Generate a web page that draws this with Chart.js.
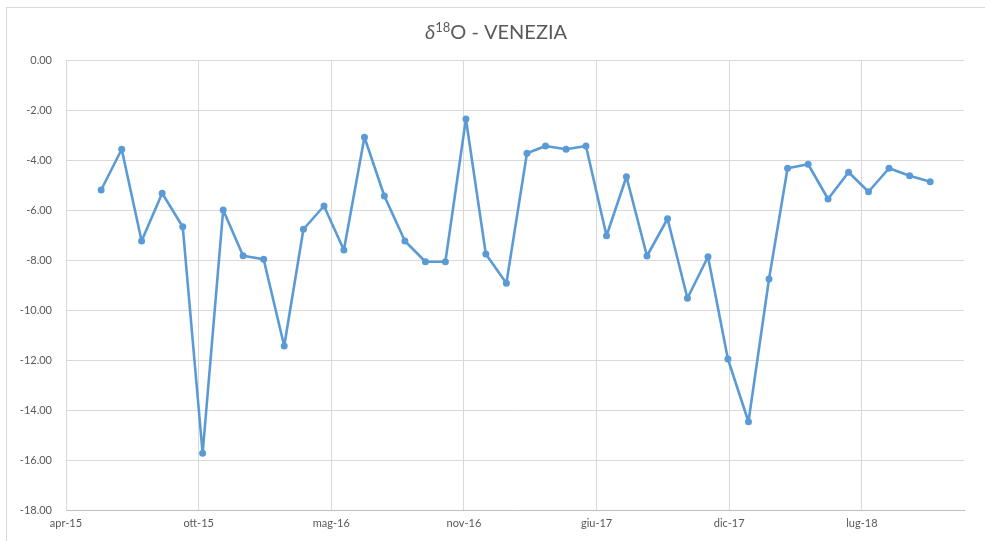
<!DOCTYPE html>
<html>
<head>
<meta charset="utf-8">
<script src="https://cdn.jsdelivr.net/npm/chart.js@4/dist/chart.umd.min.js"></script>
<style>
  html, body { margin: 0; padding: 0; background: #fff; overflow: hidden; }
  #wrap { position: relative; width: 985px; height: 541px; }
  #frame { position: absolute; left: 6px; top: 7px; width: 1000px; height: 560px; border: 1px solid #d9d9d9; }
  canvas { position: absolute; left: 0; top: 0; }
</style>
</head>
<body>
<div id="wrap">
  <div id="frame"></div>
  <canvas id="c" width="985" height="541"></canvas>
</div>
<script>
  // sampling dates (monthly) and d18O values
  const sampleDates = [
    '2015-05-24','2015-06-24','2015-07-24','2015-08-24','2015-09-24','2015-10-24',
    '2015-11-24','2015-12-24','2016-01-24','2016-02-24','2016-03-24','2016-04-24',
    '2016-05-24','2016-06-24','2016-07-24','2016-08-24','2016-09-24','2016-10-24',
    '2016-11-24','2016-12-24','2017-01-24','2017-02-24','2017-03-24','2017-04-24',
    '2017-05-24','2017-06-24','2017-07-24','2017-08-24','2017-09-24','2017-10-24',
    '2017-11-24','2017-12-24','2018-01-24','2018-02-24','2018-03-24','2018-04-24',
    '2018-05-24','2018-06-24','2018-07-24','2018-08-24','2018-09-24','2018-10-25'
  ];
  const d18O = [
    -5.20, -3.57, -7.24, -5.33, -6.67, -15.73,
    -6.00, -7.83, -7.97, -11.44, -6.77, -5.84,
    -7.60, -3.09, -5.44, -7.24, -8.07, -8.07,
    -2.36, -7.76, -8.93, -3.73, -3.44, -3.57,
    -3.44, -7.03, -4.67, -7.84, -6.35, -9.53,
    -7.87, -11.96, -14.47, -8.76, -4.33, -4.17,
    -5.56, -4.49, -5.27, -4.33, -4.63, -4.87
  ];
  // x axis: days from 1 apr 2015, a label every 200 days
  const axisStart = '2015-04-01';
  const axisDays = 1354;
  const tickStep = 200;
  const xTickLabels = ['apr-15', 'ott-15', 'mag-16', 'nov-16', 'giu-17', 'dic-17', 'lug-18'];

  const dayOf = s => (Date.parse(s) - Date.parse(axisStart)) / 86400000;
  const points = sampleDates.map((d, i) => ({ x: dayOf(d), y: d18O[i] }));

  const FONT = "Lato, 'Open Sans', sans-serif";
  const GRID = '#d9d9d9';
  const TXT = '#595959';

  // title with italic delta and superscript 18, centred like the excel one
  const titlePlugin = {
    id: 'd18title',
    afterDraw(chart) {
      const ctx = chart.ctx;
      const parts = [
        { t: 'δ', font: 'italic 20px ' + FONT, dy: 0 },
        { t: '18', font: '13px ' + FONT, dy: -7 },
        { t: 'O - VENEZIA', font: '20px ' + FONT, dy: 0 }
      ];
      ctx.save();
      ctx.fillStyle = TXT;
      ctx.textBaseline = 'alphabetic';
      let w = 0;
      parts.forEach(p => { ctx.font = p.font; p.w = ctx.measureText(p.t).width; w += p.w; });
      let x = 496 - w / 2;
      const base = 39;
      parts.forEach(p => { ctx.font = p.font; ctx.fillText(p.t, x, base + p.dy); x += p.w; });
      ctx.restore();
    }
  };

  new Chart(document.getElementById('c'), {
    type: 'line',
    data: {
      datasets: [{
        label: 'VENEZIA',
        data: points,
        borderColor: '#5b9bd5',
        backgroundColor: '#5b9bd5',
        borderWidth: 2.6,
        borderJoinStyle: 'round',
        pointRadius: 3.5,
        pointBorderWidth: 0,
        tension: 0
      }]
    },
    options: {
      responsive: false,
      animation: false,
      layout: { padding: { left: 0, right: 21, top: 60, bottom: 0 } },
      plugins: {
        legend: { display: false },
        tooltip: { enabled: false },
        title: { display: false }
      },
      scales: {
        x: {
          type: 'linear',
          min: 0,
          max: axisDays,
          grid: { color: GRID, drawTicks: false },
          border: { color: '#bfbfbf' },
          ticks: {
            stepSize: tickStep,
            includeBounds: false,
            autoSkip: false,
            maxRotation: 0,
            padding: 7,
            color: TXT,
            font: { family: FONT, size: 11 },
            callback: v => xTickLabels[Math.round(v / tickStep)] || ''
          },
          afterFit: s => { s.height = 31; }
        },
        y: {
          min: -18,
          max: 0,
          grid: { color: GRID, drawTicks: false },
          border: { color: GRID },
          ticks: {
            stepSize: 2,
            padding: 14,
            color: TXT,
            font: { family: FONT, size: 11 },
            callback: v => v.toFixed(2)
          },
          afterFit: s => { s.width = 66; }
        }
      }
    },
    plugins: [titlePlugin]
  });
</script>
</body>
</html>
